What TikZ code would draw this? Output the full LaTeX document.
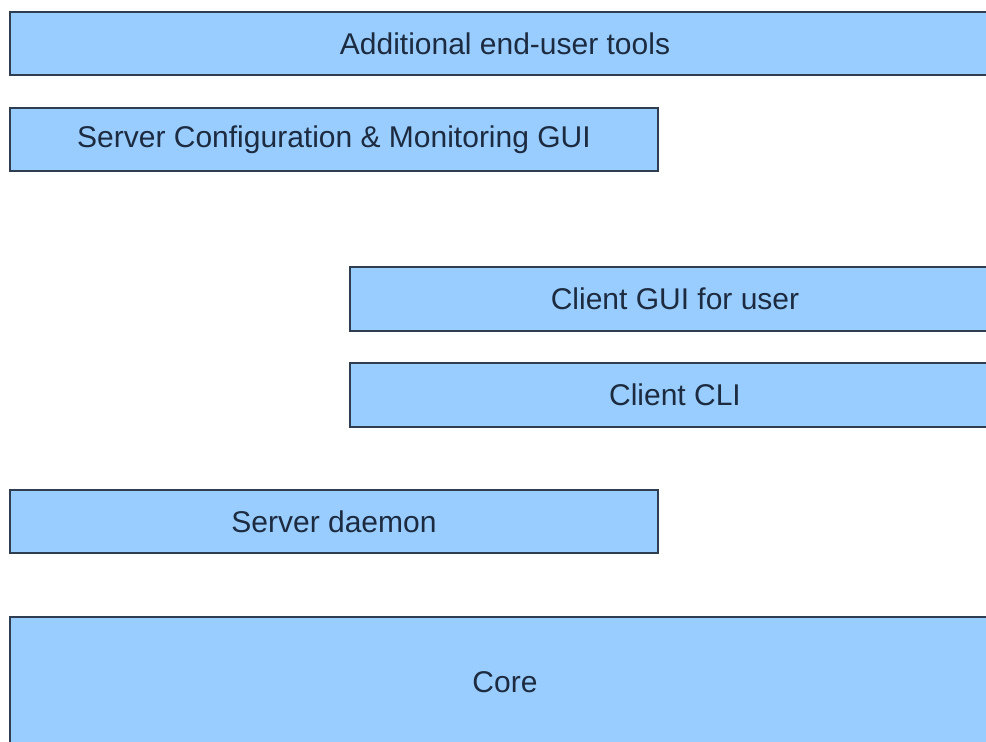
\documentclass[tikz,border=0pt]{standalone}
\usepackage{fontspec}
\setmainfont{Liberation Sans}
\definecolor{boxfill}{HTML}{99CCFF}
\definecolor{boxline}{HTML}{2E3D4F}
\definecolor{boxtext}{HTML}{1C2B3F}
\begin{document}
\begin{tikzpicture}[x=1pt,y=-1pt,
  layer/.style={draw=boxline, line width=2pt, fill=boxfill, text=boxtext,
    font=\fontsize{30}{36}\selectfont, inner sep=0pt, outer sep=0pt}]
\useasboundingbox[fill=white] (0,0) rectangle (986,742);
\clip (0,0) rectangle (986,742);
\node[layer, minimum width=990pt, minimum height=63pt] (tools) at (505,43.5) {Additional end-user tools};
\node[layer, minimum width=648pt, minimum height=63pt] (scfg) at (334,139.5) {Server Configuration \& Monitoring GUI};
\node[layer, minimum width=650pt, minimum height=64pt] (cgui) at (675,298.5) {Client GUI for user};
\node[layer, minimum width=650pt, minimum height=64pt] (ccli) at (675,395) {Client CLI};
\node[layer, minimum width=648pt, minimum height=63pt] (sdaemon) at (334,521.5) {Server daemon};
\node[layer, minimum width=990pt, minimum height=130pt] (core) at (505,682) {Core};
\end{tikzpicture}
\end{document}
